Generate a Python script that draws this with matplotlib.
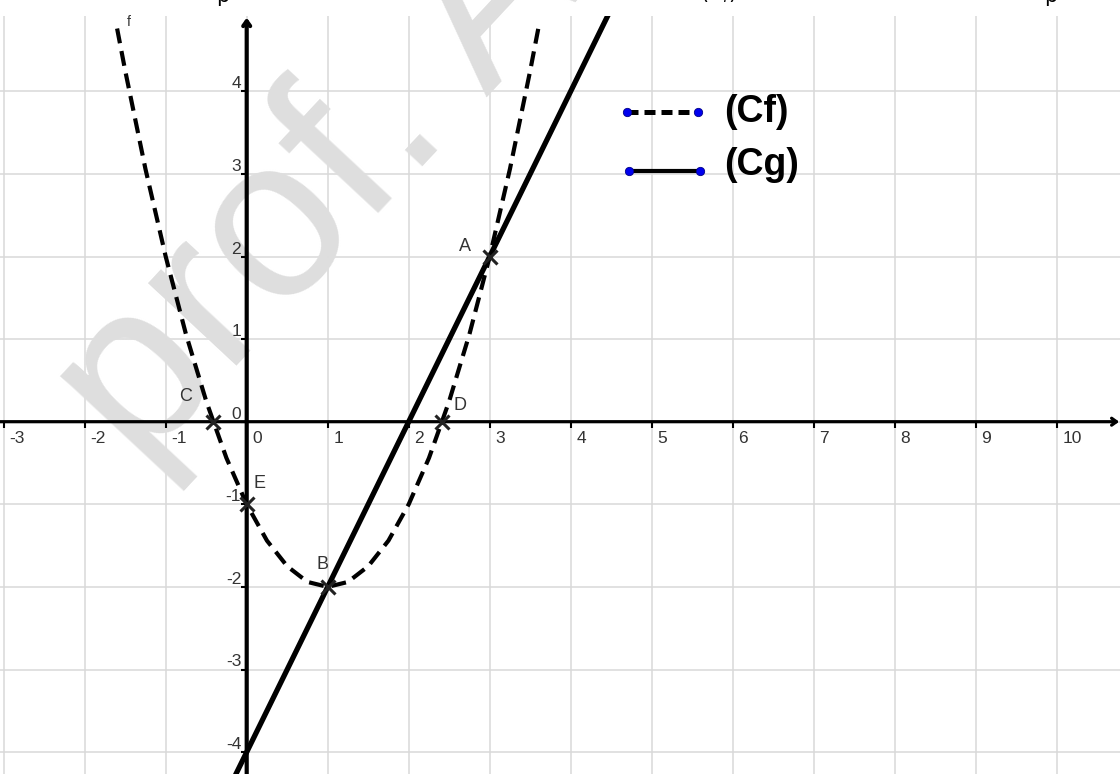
import matplotlib.pyplot as plt

# curve (Cf)
f_x = [-1.6, -1.5, -1.25, -1.0, -0.75, -0.5, -0.41, -0.25, 0.0, 0.25, 0.5, 0.75, 1.0,
       1.25, 1.5, 1.75, 2.0, 2.25, 2.41, 2.5, 2.75, 3.0, 3.25, 3.5, 3.6]
f_y = [4.76, 4.25, 3.06, 2.0, 1.06, 0.25, 0.0, -0.44, -1.0, -1.44, -1.75, -1.94, -2.0,
       -1.94, -1.75, -1.44, -1.0, -0.44, 0.0, 0.25, 1.06, 2.0, 3.06, 4.25, 4.76]

# line (Cg)
g_x = [-0.5, 5.0]
g_y = [-5.0, 6.0]

# named points
pt_names = ["A", "B", "C", "D", "E"]
pt_x = [3.0, 1.0, -0.41, 2.41, 0.0]
pt_y = [2.0, -2.0, 0.0, 0.0, -1.0]

x_ticks = list(range(-3, 11))
y_ticks = list(range(-4, 5))

# pixel calibration of the picture
W, H = 1120, 774
x0_px, ux = 246.7, 81.0
y0_px, uy = 421.7, 82.6
top_px = 16

fig = plt.figure(figsize=(W / 100, H / 100), dpi=100)
ax = fig.add_axes([0, 0, 1, 1 - top_px / H])
ax.set_xlim(-x0_px / ux, (W - x0_px) / ux)
ax.set_ylim((y0_px - H) / uy, (y0_px - top_px) / uy)
for s in ax.spines.values():
    s.set_visible(False)
ax.set_xticks(x_ticks)
ax.set_yticks(y_ticks)
ax.tick_params(length=0, labelbottom=False, labelleft=False)
ax.set_axisbelow(True)
ax.grid(color="#d9d9d9", lw=1.1)

label_col = "#333333"

# watermark
ax.text(140 / W, 1 - 470 / H, "prof. A", transform=fig.transFigure, rotation=47,
        rotation_mode="anchor", ha="left", va="baseline", fontsize=165,
        color="#dedede", family="Liberation Sans", zorder=1)

# cut-off line of text above the graph
for xp, yp, s in [(216, -2, "p"), (700, 1, r"$(C_f)$"), (1044, -2, "p")]:
    fig.text(xp / W, 1 + yp / H, s, fontsize=15, va="baseline", color="k")

# axes with arrows
ylo, yhi = ax.get_ylim()
xlo, xhi = ax.get_xlim()
ax.annotate("", xy=(0, yhi - 0.02), xytext=(0, ylo),
            arrowprops=dict(arrowstyle="->,head_length=0.35,head_width=0.25",
                            lw=3.0, color="k", shrinkA=0, shrinkB=0), zorder=3)
ax.annotate("", xy=(xhi - 0.01, 0), xytext=(xlo, 0),
            arrowprops=dict(arrowstyle="->,head_length=0.35,head_width=0.25",
                            lw=2.3, color="k", shrinkA=0, shrinkB=0), zorder=3)
ax.plot(x_ticks, [0] * len(x_ticks), ls="none", marker=3, ms=4, mew=1.5, color="k", zorder=3)
ax.plot([0] * len(y_ticks), y_ticks, ls="none", marker=0, ms=4, mew=1.5, color="k", zorder=3)

for k in x_ticks:
    ax.annotate(str(k), xy=(k, 0), xytext=(4, -7), textcoords="offset points",
                ha="left", va="top", fontsize=12.5, color=label_col,
                family="Liberation Sans", zorder=4)
for k in y_ticks:
    ax.annotate(str(k), xy=(0, k), xytext=(-4, 0), textcoords="offset points",
                ha="right", va="bottom", fontsize=12.5, color=label_col,
                family="Liberation Sans", zorder=4)

# curves
ax.plot(f_x, f_y, color="k", lw=3.0, dashes=(3.6, 1.9), zorder=5)
ax.plot(g_x, g_y, color="k", lw=3.8, solid_capstyle="butt", zorder=6)
ax.annotate("f", xy=(f_x[0], f_y[0]), xytext=(7, 2), textcoords="offset points",
            fontsize=10, color=label_col, family="Liberation Sans")

# points
ax.plot(pt_x, pt_y, ls="none", marker="x", ms=10, mew=2.2, color="#222222", zorder=7)
offsets = {"A": (-18, 7), "B": (-4, 16), "C": (-20, 18), "D": (13, 12), "E": (9.5, 15)}
for n, px, py in zip(pt_names, pt_x, pt_y):
    ax.annotate(n, xy=(px, py), xytext=offsets[n], textcoords="offset points",
                ha="center", va="center", fontsize=13, color=label_col,
                family="Liberation Sans", zorder=8)

# legend drawn by hand
tf = fig.transFigure
ax.plot([626.7 / W, 697.7 / W], [1 - 111.7 / H] * 2, transform=tf, color="k", lw=3.6,
        dashes=(2.2, 1.2), zorder=9)
ax.plot([626.7 / W, 697.7 / W], [1 - 111.7 / H] * 2, transform=tf, ls="none", marker="o",
        ms=6, color="#0000ee", mec="#000088", mew=0.6, zorder=10)
ax.plot([628.7 / W, 700 / W], [1 - 171 / H] * 2, transform=tf, color="k", lw=3.0, zorder=9)
ax.plot([628.7 / W, 700 / W], [1 - 171 / H] * 2, transform=tf, ls="none", marker="o",
        ms=6, color="#0000ee", mec="#000088", mew=0.6, zorder=10)
fig.text(724 / W, 1 - 112 / H, "(Cf)", fontsize=27, fontweight="bold", va="center",
         family="Liberation Sans", zorder=11)
fig.text(724 / W, 1 - 165 / H, "(Cg)", fontsize=27, fontweight="bold", va="center",
         family="Liberation Sans", zorder=11)

fig.savefig("out.png", dpi=100)
